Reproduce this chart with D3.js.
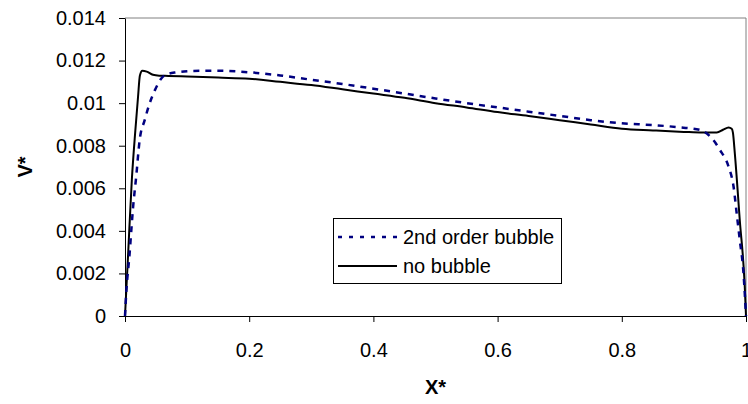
<!DOCTYPE html>
<html><head><meta charset="utf-8">
<script src="https://cdn.jsdelivr.net/npm/d3@7"></script>
<style>
html,body{margin:0;padding:0;background:#fff;}
svg{display:block;font-family:"Liberation Sans",Arial,sans-serif;}
</style></head>
<body>
<svg id="chart" width="748" height="404"></svg>
<script>
// ---- data ----
const seriesNames = ["2nd order bubble", "no bubble"];
const xTickValues = [0, 0.2, 0.4, 0.6, 0.8, 1];
const xTickLabels = ["0", "0.2", "0.4", "0.6", "0.8", "1"];
const yTickValues = [0, 0.002, 0.004, 0.006, 0.008, 0.01, 0.012, 0.014];
const yTickLabels = ["0", "0.002", "0.004", "0.006", "0.008", "0.01", "0.012", "0.014"];

const bubbleX = [0, 0.002, 0.0075, 0.0102, 0.0129, 0.018, 0.0236, 0.0317, 0.0397, 0.048, 0.0585, 0.069, 0.083, 0.1, 0.12, 0.15, 0.2, 0.25, 0.3, 0.35, 0.4, 0.45, 0.5, 0.55, 0.6, 0.65, 0.7, 0.75, 0.8, 0.85, 0.894, 0.926, 0.945, 0.958, 0.972, 0.98, 0.985, 0.99, 0.996, 1.0];
const bubbleV = [0, 0.00108, 0.00296, 0.00404, 0.00507, 0.00654, 0.00827, 0.0092, 0.00999, 0.0106, 0.01116, 0.01137, 0.01145, 0.0115, 0.01152, 0.01152, 0.01145, 0.0113, 0.0111, 0.0109, 0.01068, 0.01045, 0.01022, 0.01, 0.0098, 0.0096, 0.0094, 0.0092, 0.00905, 0.00897, 0.00886, 0.00874, 0.00835, 0.0078, 0.00701, 0.00607, 0.00482, 0.00357, 0.002, 0];

const noBubbleX = [0, 0.005, 0.011, 0.0166, 0.021, 0.024, 0.028, 0.035, 0.045, 0.055, 0.07, 0.1, 0.15, 0.2, 0.25, 0.3, 0.35, 0.4, 0.45, 0.5, 0.55, 0.6, 0.65, 0.7, 0.75, 0.8, 0.85, 0.9, 0.93, 0.953, 0.963, 0.972, 0.977, 0.979, 0.982, 0.99, 0.998, 1.0];
const noBubbleV = [0, 0.0029, 0.0064, 0.0087, 0.0103, 0.0113, 0.01152, 0.01148, 0.01133, 0.01129, 0.01128, 0.01125, 0.0112, 0.01115, 0.011, 0.01085, 0.01065, 0.01045, 0.01025, 0.01, 0.0098, 0.00958, 0.0094, 0.0092, 0.009, 0.0088, 0.00872, 0.00865, 0.00862, 0.00862, 0.00875, 0.00886, 0.0088, 0.0086, 0.00764, 0.0045, 0.00138, 0];

// ---- layout ----
const svg = d3.select("#chart");
const L = 125, R = 746, T = 18, B = 316;
const x = d3.scaleLinear().domain([0, 1]).range([L, R]);
const y = d3.scaleLinear().domain([0, 0.014]).range([B, T]);

// plot border (top/right)
svg.append("path")
  .attr("d", `M${L},${T}H${R}V${B}`)
  .attr("fill", "none").attr("stroke", "#808080").attr("stroke-width", 1);

// axes
const xAxis = d3.axisBottom(x).tickValues(xTickValues)
  .tickFormat((d, i) => xTickLabels[i]).tickSize(6).tickPadding(21).tickSizeOuter(0);
const yAxis = d3.axisLeft(y).tickValues(yTickValues)
  .tickFormat((d, i) => yTickLabels[i]).tickSize(6).tickPadding(13).tickSizeOuter(0);

const gx = svg.append("g").attr("transform", `translate(0,${B})`).call(xAxis);
const gy = svg.append("g").attr("transform", `translate(${L},0)`).call(yAxis);
[gx, gy].forEach(g => {
  g.selectAll("text").attr("font-size", 20).attr("fill", "#000")
    .attr("font-family", "'Liberation Sans', Arial, sans-serif");
  g.selectAll("line").attr("stroke", "#000");
  g.select(".domain").attr("stroke", "#000");
});

// axis titles
svg.append("text").attr("x", (L + R) / 2).attr("y", 394)
  .attr("text-anchor", "middle").attr("font-size", 20).attr("font-weight", "bold")
  .text("X*");
svg.append("text").attr("transform", `translate(32,${(T + B) / 2}) rotate(-90)`)
  .attr("text-anchor", "middle").attr("font-size", 20).attr("font-weight", "bold")
  .text("V*");

// lines
const line = d3.line().x(d => x(d[0])).y(d => y(d[1])).curve(d3.curveMonotoneX);
const bubbleData = bubbleX.map((v, i) => [v, bubbleV[i]]);
const noBubbleData = noBubbleX.map((v, i) => [v, noBubbleV[i]]);

svg.append("path").datum(noBubbleData).attr("d", line)
  .attr("fill", "none").attr("stroke", "#000").attr("stroke-width", 2);
svg.append("path").datum(bubbleData).attr("d", line)
  .attr("fill", "none").attr("stroke", "#000080").attr("stroke-width", 2.5)
  .attr("stroke-dasharray", "6,6");

// legend
const lg = svg.append("g");
lg.append("rect").attr("x", 333.5).attr("y", 218.5).attr("width", 228).attr("height", 65)
  .attr("fill", "#fff").attr("stroke", "#000").attr("stroke-width", 1);
const rows = [
  {name: seriesNames[0], y: 237, stroke: "#000080", dash: "4,7", w: 2.5},
  {name: seriesNames[1], y: 266, stroke: "#000", dash: null, w: 2}
];
rows.forEach(r => {
  lg.append("line").attr("x1", 338).attr("x2", 397).attr("y1", r.y).attr("y2", r.y)
    .attr("stroke", r.stroke).attr("stroke-width", r.w)
    .attr("stroke-dasharray", r.dash);
  lg.append("text").attr("x", 403).attr("y", r.y).attr("dy", "0.36em")
    .attr("font-size", 20).attr("fill", "#000").text(r.name);
});
</script>
</body></html>
